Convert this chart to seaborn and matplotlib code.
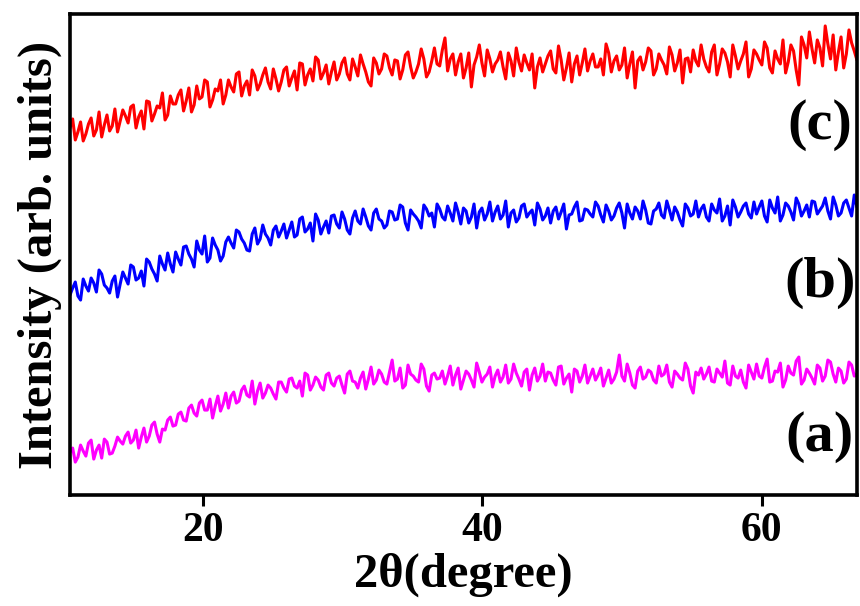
import numpy as np
import pandas as pd
import matplotlib
matplotlib.use("Agg")
import matplotlib.pyplot as plt
import seaborn as sns

# intensity values (arb. units), 299 points each, 10.5 -> 66.8 deg
int_c = [372, 381, 360, 368, 378, 359, 366, 376, 382, 364, 370, 388, 363, 375, 385, 369, 374, 391, 368, 379,
         390, 384, 377, 393, 395, 372, 383, 389, 371, 399, 398, 379, 386, 394, 392, 407, 380, 385, 404, 396,
         396, 405, 410, 389, 399, 412, 388, 395, 414, 401, 403, 420, 418, 393, 400, 411, 409, 420, 396, 405,
         420, 413, 408, 426, 428, 404, 414, 419, 405, 430, 424, 410, 416, 425, 432, 418, 411, 431, 421, 409,
         418, 430, 433, 414, 422, 429, 410, 437, 436, 415, 425, 431, 419, 443, 440, 421, 427, 435, 416, 428,
         438, 420, 426, 437, 442, 426, 420, 441, 433, 424, 445, 436, 428, 418, 414, 442, 437, 426, 431, 446,
         444, 432, 425, 440, 439, 421, 430, 445, 448, 433, 422, 428, 436, 451, 441, 423, 428, 439, 452, 436,
         434, 450, 462, 429, 441, 446, 425, 438, 446, 422, 432, 447, 413, 435, 443, 455, 437, 424, 450, 441,
         428, 436, 440, 448, 433, 421, 447, 439, 424, 452, 438, 429, 445, 437, 430, 446, 412, 433, 442, 428,
         436, 444, 449, 431, 427, 454, 440, 420, 432, 447, 418, 436, 444, 425, 437, 451, 429, 439, 446, 433,
         433, 441, 425, 456, 447, 428, 439, 444, 430, 435, 452, 422, 436, 448, 412, 439, 443, 430, 438, 452,
         449, 425, 431, 446, 440, 435, 426, 453, 445, 429, 437, 450, 417, 441, 442, 428, 450, 439, 434, 455,
         441, 433, 428, 448, 455, 425, 436, 451, 447, 438, 423, 455, 444, 431, 439, 446, 458, 423, 431, 450,
         446, 440, 435, 458, 452, 432, 427, 449, 441, 436, 460, 427, 438, 455, 449, 430, 415, 463, 455, 442,
         468, 451, 437, 460, 452, 434, 474, 456, 441, 465, 430, 448, 463, 432, 446, 470, 457, 449, 440]

int_b = [205, 212, 218, 204, 200, 221, 214, 209, 222, 217, 208, 230, 226, 215, 212, 207, 219, 224, 203, 216,
         228, 222, 216, 235, 233, 220, 222, 229, 214, 241, 238, 231, 226, 219, 244, 236, 230, 247, 236, 228,
         248, 241, 235, 253, 254, 246, 241, 233, 259, 250, 246, 264, 238, 242, 262, 255, 250, 239, 244, 258,
         263, 257, 252, 270, 268, 261, 257, 250, 249, 266, 272, 256, 261, 275, 266, 262, 255, 270, 274, 263,
         269, 276, 262, 270, 278, 263, 265, 281, 283, 268, 271, 277, 259, 286, 280, 266, 273, 279, 267, 284,
         285, 276, 272, 288, 281, 270, 266, 282, 289, 279, 276, 291, 283, 274, 270, 287, 291, 281, 279, 272,
         275, 289, 288, 280, 281, 295, 293, 277, 270, 290, 286, 283, 279, 272, 295, 291, 284, 287, 273, 296,
         291, 283, 280, 294, 287, 279, 297, 288, 276, 292, 289, 277, 283, 296, 272, 288, 292, 280, 286, 298,
         279, 288, 294, 281, 285, 299, 273, 287, 290, 278, 282, 294, 296, 283, 287, 290, 275, 297, 291, 280,
         284, 292, 277, 289, 293, 281, 288, 296, 271, 285, 286, 293, 298, 279, 280, 291, 290, 286, 283, 298,
         294, 285, 278, 295, 289, 280, 284, 292, 297, 287, 272, 296, 287, 281, 293, 289, 281, 299, 290, 277,
         276, 289, 291, 297, 285, 282, 299, 290, 280, 293, 288, 280, 274, 296, 292, 284, 286, 299, 283, 291,
         295, 283, 279, 296, 290, 287, 301, 279, 284, 294, 275, 300, 293, 283, 288, 294, 297, 286, 282, 298,
         286, 293, 299, 284, 278, 300, 292, 287, 303, 279, 285, 297, 294, 288, 280, 302, 296, 284, 289, 295,
         283, 299, 298, 286, 290, 294, 302, 289, 281, 303, 295, 284, 287, 297, 300, 292, 284, 305, 293]

int_a = [48, 52, 38, 43, 55, 49, 44, 57, 60, 41, 50, 55, 42, 61, 58, 46, 47, 54, 63, 59,
         56, 64, 68, 57, 60, 70, 52, 63, 72, 58, 64, 75, 78, 66, 58, 71, 70, 80, 83, 74,
         75, 86, 88, 80, 79, 92, 95, 87, 84, 97, 100, 90, 90, 101, 82, 94, 104, 89, 96, 107,
         92, 104, 108, 97, 99, 110, 114, 105, 103, 119, 96, 109, 117, 102, 107, 115, 112, 106, 101, 118,
         118, 112, 108, 121, 122, 114, 112, 119, 104, 127, 125, 110, 115, 123, 120, 113, 110, 125, 127, 117,
         114, 122, 124, 115, 107, 126, 129, 119, 118, 112, 122, 128, 111, 121, 133, 116, 120, 130, 126, 118,
         116, 128, 140, 119, 121, 132, 112, 115, 135, 126, 124, 120, 118, 136, 131, 114, 109, 125, 127, 121,
         122, 129, 116, 124, 134, 115, 125, 132, 111, 120, 129, 126, 120, 113, 137, 128, 118, 123, 126, 133,
         113, 124, 130, 118, 123, 135, 117, 121, 136, 127, 121, 114, 128, 131, 110, 125, 132, 119, 124, 136,
         119, 128, 127, 120, 115, 133, 134, 116, 122, 126, 108, 131, 129, 118, 124, 135, 117, 124, 131, 120,
         125, 132, 114, 122, 130, 117, 121, 128, 145, 124, 119, 136, 127, 115, 112, 129, 133, 121, 123, 130,
         128, 120, 117, 134, 124, 126, 135, 118, 113, 129, 126, 122, 120, 137, 131, 114, 107, 128, 125, 132,
         121, 126, 133, 119, 118, 131, 127, 123, 139, 117, 115, 134, 124, 122, 130, 118, 112, 135, 128, 121,
         136, 124, 122, 133, 141, 118, 119, 129, 128, 137, 113, 120, 134, 127, 125, 139, 143, 116, 120, 131,
         127, 122, 116, 135, 132, 119, 124, 140, 138, 126, 118, 132, 129, 117, 121, 138, 135, 124, 126]

two_theta = np.round(np.linspace(10.5, 66.8, len(int_a)), 3)
labels = ["(a)", "(b)", "(c)"]
colors = ["#FF00FF", "#0000FF", "#FF0000"]

df = pd.DataFrame({"two_theta": np.tile(two_theta, 3),
                   "intensity": int_a + int_b + int_c,
                   "sample": np.repeat(labels, len(two_theta))})

sns.set_style("white")
plt.rcParams['font.family'] = ['Liberation Serif', 'DejaVu Serif']
plt.rcParams['font.weight'] = 'bold'
plt.rcParams['text.color'] = 'black'
plt.rcParams['axes.labelcolor'] = 'black'
plt.rcParams['xtick.color'] = 'black'

fig = plt.figure(figsize=(8.6, 6.06), dpi=100)
ax = fig.add_axes([0.0814, 0.183, 0.915, 0.794])

sns.lineplot(data=df, x="two_theta", y="intensity", hue="sample",
             palette=colors, linewidth=2.2, legend=False, ax=ax)

ax.set_xlim(10.5, 66.8)
ax.set_ylim(5, 486)
ax.set_xticks([20, 40, 60])
ax.set_xticklabels(["20", "40", "60"], fontsize=30, fontweight='bold', color='black')
ax.set_yticks([])
ax.tick_params(axis='x', direction='out', length=8, width=2.2, pad=4, bottom=True)
for s in ax.spines.values():
    s.set_linewidth(2.6)
    s.set_color('black')

ax.set_xlabel("2θ(degree)", fontsize=35, fontweight='bold', labelpad=2, color='black')
ax.set_ylabel("Intensity (arb. units)", fontsize=35, fontweight='bold', labelpad=6, color='black')

pos = {"(c)": 0.769, "(b)": 0.441, "(a)": 0.121}
for lab in labels:
    ax.text(0.953, pos[lab], lab, transform=ax.transAxes, fontsize=42,
            fontweight='bold', ha='center', va='center', color='black')

fig.savefig("out.png", dpi=100)
